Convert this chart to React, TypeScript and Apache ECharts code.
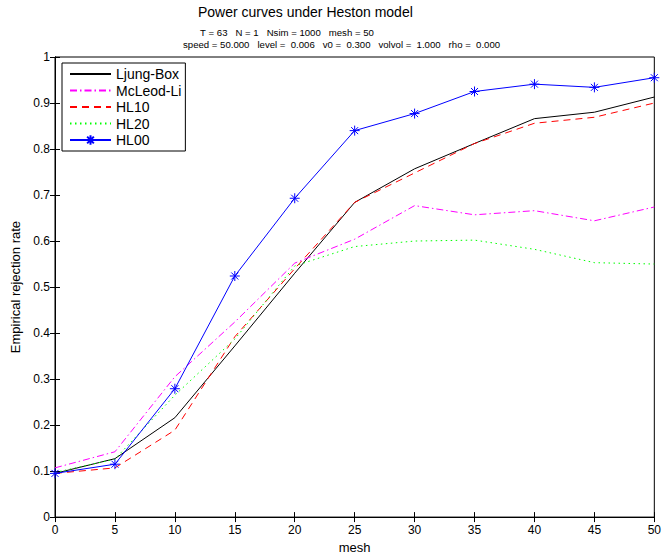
import React, { useEffect, useRef } from "react";
import * as echarts from "echarts";

const mesh = [0, 5, 10, 15, 20, 25, 30, 35, 40, 45, 50];
const ljungBox = [0.095, 0.127, 0.216, 0.372, 0.53, 0.684, 0.757, 0.812, 0.866, 0.88, 0.913];
const mcleodLi = [0.107, 0.142, 0.305, 0.424, 0.552, 0.604, 0.677, 0.657, 0.666, 0.644, 0.674];
const hl10 = [0.095, 0.107, 0.189, 0.392, 0.54, 0.684, 0.748, 0.812, 0.856, 0.869, 0.9];
const hl20 = [0.097, 0.126, 0.265, 0.387, 0.546, 0.588, 0.6, 0.602, 0.582, 0.553, 0.55];
const hl00 = [0.095, 0.115, 0.279, 0.524, 0.693, 0.84, 0.877, 0.925, 0.941, 0.934, 0.955];

const seriesNames = ["Ljung-Box", "McLeod-Li", "HL10", "HL20", "HL00"];
const titleText = "Power curves under Heston model";
const subLine1 = "T = 63   N = 1   Nsim = 1000   mesh = 50";
const subLine2 = "speed = 50.000   level =  0.006   v0 =  0.300   volvol =  1.000   rho =  0.000";

const FONT = "Liberation Sans, Arial, Helvetica, sans-serif";
const STAR = "path://M0,-5L0,5M-5,0L5,0M-3.5,-3.5L3.5,3.5M-3.5,3.5L3.5,-3.5";

const pairs = (ys: number[]) => mesh.map((x, i) => [x, ys[i]]);
const nb = (s: string) => s.replace(/ /g, "\u00a0");

export default function App() {
  const ref = useRef<HTMLDivElement>(null);
  useEffect(() => {
    if (!ref.current) return;
    const chart = echarts.init(ref.current, undefined, { renderer: "svg" });
    const tickAxis = {
      axisLine: { show: true, lineStyle: { color: "#000", width: 1 } },
      axisTick: { show: true, inside: true, length: 5, lineStyle: { color: "#000" } },
      splitLine: { show: false },
    };
    chart.setOption({
      animation: false,
      backgroundColor: "#fff",
      textStyle: { fontFamily: FONT },
      grid: { left: 55, right: 8, top: 57, bottom: 38, show: true, borderColor: "#000", borderWidth: 1, backgroundColor: "transparent" },
      legend: {
        data: seriesNames.map((n) =>
          n === "HL00" ? { name: n } : { name: n, itemStyle: { opacity: 0 } }
        ),
        orient: "vertical",
        left: 62,
        top: 63,
        padding: [3, 4, 3, 7],
        itemWidth: 41,
        itemHeight: 12,
        itemGap: 0.5,
        borderColor: "#000",
        borderWidth: 1,
        borderRadius: 0,
        backgroundColor: "#fff",
        textStyle: { fontSize: 14, lineHeight: 16, color: "#000", fontFamily: FONT },
        z: 10,
      },
      xAxis: [
        {
          type: "value",
          min: 0,
          max: 50,
          interval: 5,
          position: "bottom",
          name: "mesh",
          nameLocation: "middle",
          nameGap: 22,
          nameTextStyle: { fontSize: 13, color: "#000", fontFamily: FONT },
          axisLabel: { fontSize: 12, color: "#000", margin: 7, fontFamily: FONT },
          ...tickAxis,
        },
        {
          type: "value",
          min: 0,
          max: 50,
          interval: 5,
          position: "top",
          axisLabel: { show: false },
          ...tickAxis,
        },
      ],
      yAxis: [
        {
          type: "value",
          min: 0,
          max: 1,
          interval: 0.1,
          position: "left",
          name: "Empirical rejection rate",
          nameLocation: "middle",
          nameGap: 27,
          nameRotate: 90,
          nameTextStyle: { fontSize: 13, color: "#000", fontFamily: FONT },
          axisLabel: { fontSize: 12, color: "#000", margin: 5, fontFamily: FONT },
          ...tickAxis,
        },
        {
          type: "value",
          min: 0,
          max: 1,
          interval: 0.1,
          position: "right",
          axisLabel: { show: false },
          ...tickAxis,
        },
      ],
      graphic: [
        { type: "text", left: 198, top: 5, style: { text: titleText, fontSize: 14, fontFamily: FONT, fill: "#000" } },
        { type: "text", left: 200, top: 27, style: { text: nb(subLine1), fontSize: 9.6, fontFamily: FONT, fill: "#000" } },
        { type: "text", left: 183, top: 39, style: { text: nb(subLine2), fontSize: 9.6, fontFamily: FONT, fill: "#000" } },
      ],
      series: [
        {
          name: "Ljung-Box",
          type: "line",
          data: pairs(ljungBox),
          symbol: "none",
          lineStyle: { color: "#000", width: 1, type: "solid" },
          itemStyle: { color: "#000" },
        },
        {
          name: "McLeod-Li",
          type: "line",
          data: pairs(mcleodLi),
          symbol: "none",
          lineStyle: { color: "#ff00ff", width: 1, type: [7, 3, 1.5, 3] },
          itemStyle: { color: "#ff00ff" },
        },
        {
          name: "HL10",
          type: "line",
          data: pairs(hl10),
          symbol: "none",
          lineStyle: { color: "#ff0000", width: 1, type: [7, 5] },
          itemStyle: { color: "#ff0000" },
        },
        {
          name: "HL20",
          type: "line",
          data: pairs(hl20),
          symbol: "none",
          lineStyle: { color: "#00ff00", width: 1, type: [1.5, 3.5] },
          itemStyle: { color: "#00ff00" },
        },
        {
          name: "HL00",
          type: "line",
          data: pairs(hl00),
          symbol: STAR,
          symbolSize: 10,
          showSymbol: true,
          lineStyle: { color: "#0000ff", width: 1, type: "solid" },
          itemStyle: { color: "#0000ff", borderColor: "#0000ff", borderWidth: 1 },
        },
      ],
    });
    return () => chart.dispose();
  }, []);
  return <div ref={ref} style={{ position: "fixed", left: 0, top: 0, width: 664, height: 559 }} />;
}
